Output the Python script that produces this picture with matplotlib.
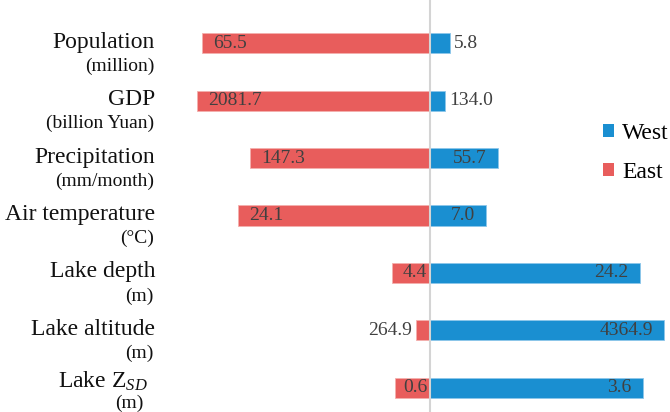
import matplotlib
matplotlib.use("Agg")
import matplotlib.pyplot as plt
from matplotlib.patches import Patch
from matplotlib.transforms import blended_transform_factory
import numpy as np

plt.rcParams["font.family"] = "Liberation Serif"
plt.rcParams["mathtext.fontset"] = "custom"
plt.rcParams["mathtext.rm"] = "Liberation Serif"
plt.rcParams["mathtext.it"] = "Liberation Serif:italic"

# lake / catchment indicators, east vs west basins
NAMES = ["Population", "GDP", "Precipitation", "Air temperature",
         "Lake depth", "Lake altitude", "Lake Z$_{SD}$"]
UNITS = ["(million)", "(billion Yuan)", "(mm/month)", "(°C)", "(m)", "(m)", "(m)"]
EAST = [65.5, 2081.7, 147.3, 24.1, 4.4, 264.9, 0.6]
WEST = [5.8, 134.0, 55.7, 7.0, 24.2, 4364.9, 3.6]

BLUE = "#1a8fd1"
RED = "#e85d5c"
VALUE_TEXT = "#404040"
AXIS_GRAY = "#d4d4d4"
PAD_PX = 11

east = np.array(EAST)
west = np.array(WEST)
total = east + west
east_pct = east / total * 100
west_pct = west / total * 100

fig = plt.figure(figsize=(6.7, 4.12), dpi=100)
ax = fig.add_axes([0, 0, 1, 1])
rows = np.arange(len(NAMES))

ax.barh(rows, -east_pct, height=0.35, color=RED, edgecolor="#f3b0ae", linewidth=0.6, zorder=2)
ax.barh(rows, west_pct, height=0.35, color=BLUE, edgecolor="#8cc6ea", linewidth=0.6, zorder=2)
ax.axvline(0, color=AXIS_GRAY, linewidth=1.5, zorder=3)

ax.set_xlim(-173.4, 96.8)
ax.set_ylim(6.42, -0.75)
ax.axis("off")

renderer = fig.canvas.get_renderer()
px_per_pct = ax.transData.transform((1, 0))[0] - ax.transData.transform((0, 0))[0]


def place_value(end, row, value, side):
    """Value inside the bar at its outer end, or just outside when it doesn't fit."""
    txt = ax.annotate(f"{value:.1f}", xy=(end, row), xytext=(0, 0),
                      textcoords="offset pixels", va="center",
                      fontsize=14, color=VALUE_TEXT, zorder=4)
    w = txt.get_window_extent(renderer).width
    length_px = abs(end) * px_per_pct
    if length_px >= w + 6:
        pad = min(PAD_PX, length_px - w - 2)
        txt.set_ha("right" if side > 0 else "left")
        txt.xyann = (-side * pad, 0)
    else:
        txt.set_ha("left" if side > 0 else "right")
        txt.xyann = (side * 4, 0)


for i in rows:
    place_value(-east_pct[i], i, east[i], -1)
    place_value(west_pct[i], i, west[i], 1)

# row labels: name plus unit on a second, smaller line
label_trans = blended_transform_factory(fig.transFigure, ax.transData)
last = len(NAMES) - 1
for i, (name, unit) in enumerate(zip(NAMES, UNITS)):
    # bottom row is nudged up so its unit line stays on the canvas
    lift = 6 if i == last else 0
    name_x = 148 if i == last else 155
    unit_x = 144 if i == last else 154
    ax.annotate(name, xy=(name_x / 670, i), xycoords=label_trans, xytext=(0, 1 + lift),
                textcoords="offset pixels", ha="right", va="center",
                fontsize=17, color="#111111")
    ax.annotate(unit, xy=(unit_x / 670, i), xycoords=label_trans, xytext=(0, -23 + lift + 2 * (i == last)),
                textcoords="offset pixels", ha="right", va="center",
                fontsize=14, color="#111111")

handles = [Patch(facecolor=BLUE, label="West"), Patch(facecolor=RED, label="East")]
fig.legend(handles=handles, loc="center left", bbox_to_anchor=(603 / 670, 1 - 153 / 412),
           frameon=False, fontsize=17, handlelength=0.45, handleheight=0.45,
           handletextpad=0.35, labelspacing=0.75, borderpad=0, borderaxespad=0)

fig.savefig("out.png", dpi=100, facecolor="white")
